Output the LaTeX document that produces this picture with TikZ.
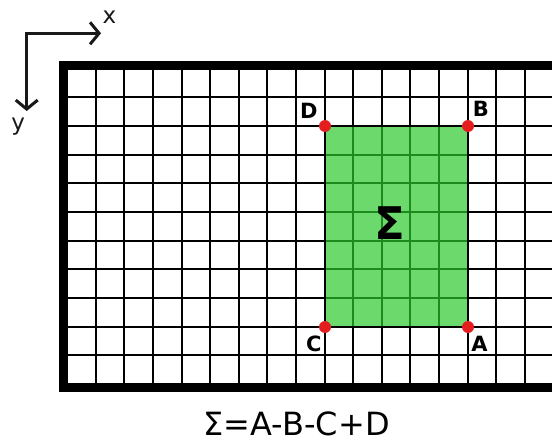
\documentclass[tikz,border=0pt]{standalone}
\usepackage{fontspec}
\setmainfont{DejaVu Sans}
\usetikzlibrary{arrows.meta}
\definecolor{cellgreen}{RGB}{108,217,108}
\definecolor{linegreen}{RGB}{28,138,28}
\definecolor{dotred}{RGB}{228,30,30}
\definecolor{axisgray}{RGB}{25,25,25}
\begin{document}
\begin{tikzpicture}[x=1pt,y=-1pt,
  gridline/.style={line width=1.8pt,black},
  innerline/.style={line width=1.8pt,linegreen},
  frame/.style={line width=8pt,black},
  dot/.style={circle,fill=dotred,inner sep=0pt,minimum size=12pt},
  lbl/.style={font=\fontsize{21}{21}\selectfont\bfseries,inner sep=0pt,anchor=base},
  axis/.style={line width=3pt,axisgray,{Straight Barb[length=9pt,width=22pt,line width=3pt]}-{Straight Barb[length=9pt,width=22pt,line width=3pt]}},
  axlbl/.style={font=\fontsize{23}{23}\selectfont,inner sep=0pt,anchor=base,axisgray}]
\useasboundingbox (0,0) rectangle (552,444);
\fill[white] (0,0) rectangle (552,444);
\begin{scope}
\clip (0,0) rectangle (552,444);
% grid
\foreach \gx in {67,96,124,153,182,210,239,267,296,325,353,382,410,439,468,496,525,554}
  \draw[gridline] (\gx,69) -- (\gx,384);
\foreach \gy in {69,97,126,155,183,212,241,269,298,327,355,384}
  \draw[gridline] (67,\gy) -- (560,\gy);
% green region
\fill[cellgreen] (325,126) rectangle (468,327);
\foreach \gx in {353,382,410,439}
  \draw[innerline] (\gx,126) -- (\gx,327);
\foreach \gy in {155,183,212,241,269,298}
  \draw[innerline] (325,\gy) -- (468,\gy);
\draw[gridline] (325,126) rectangle (468,327);
% thick frame
\draw[frame] (600,65) -- (63,65) -- (63,388) -- (600,388);
\end{scope}
% corner dots
\node[dot] (A) at (468,327) {};
\node[dot] (B) at (468,126) {};
\node[dot] (C) at (325,327) {};
\node[dot] (D) at (325,126) {};
% corner labels
\node[lbl] (Al) at (479.5,351.7) {A};
\node[lbl] (Bl) at (480.8,116.7) {B};
\node[lbl] (Cl) at (313.8,351.7) {C};
\node[lbl] (Dl) at (308.8,118.3) {D};
% sigma
\node[font=\fontsize{45}{45}\selectfont\bfseries,inner sep=0pt,anchor=base] (S) at (390,239.8) {Σ};
% axes
\coordinate (O) at (26.7,33.3);
\coordinate (X) at (101,33.3);
\coordinate (Y) at (26.7,111);
\draw[axis] (X) -- (O) -- (Y);
\node[axlbl] (xl) at (109.5,24) {x};
\node[axlbl] (yl) at (18.3,130) {y};
% formula
\node[font=\fontsize{32}{32}\selectfont,inner sep=0pt,anchor=base] (F) at (296.7,435) {Σ=A-B-C+D};
\end{tikzpicture}
\end{document}
